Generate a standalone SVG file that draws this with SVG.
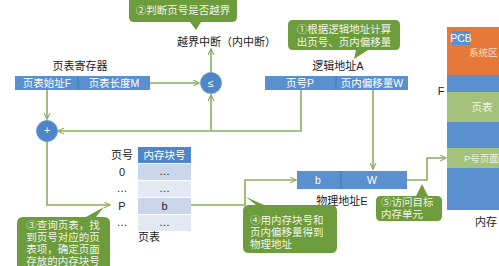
<svg xmlns="http://www.w3.org/2000/svg" width="499" height="266" viewBox="0 0 499 266">
<defs>
<marker id="ah" viewBox="0 0 8 8" refX="7" refY="4" markerWidth="7" markerHeight="7" orient="auto" markerUnits="userSpaceOnUse"><path d="M0,0.5 L7.5,4 L0,7.5" fill="none" stroke="#8aae5c" stroke-width="1.3"/></marker>
</defs>
<style>
text{font-family:"Liberation Sans","Noto Sans CJK SC",sans-serif;}
.lbl{font-size:11px;fill:#222;}
.wt{font-size:10.5px;fill:#fff;}
.call{fill:#6c9c3c;}
.ct{font-size:10.5px;fill:#f4f4e8;}
.bar{fill:#5a8fd0;}
.conn{fill:none;stroke:#8aae5c;stroke-width:1.6;}
.circ{fill:#4f86c8;stroke:#6b9bd5;stroke-width:1;}
</style>
<rect width="499" height="266" fill="#fff"/>

<g id="connectors">
<path class="conn" d="M211,72 V49" marker-end="url(#ah)"/>
<path class="conn" d="M150,83 H199" marker-end="url(#ah)"/>
<path class="conn" d="M47,90 V119" marker-end="url(#ah)"/>
<path class="conn" d="M301,90 V131 H58" marker-end="url(#ah)"/>
<path class="conn" d="M211,131 V95" marker-end="url(#ah)"/>
<path class="conn" d="M373,90 V169" marker-end="url(#ah)"/>
<path class="conn" d="M47,141 V205 H110" marker-end="url(#ah)"/>
<path class="conn" d="M191,205 H245 V180 H296" marker-end="url(#ah)"/>
<path class="conn" d="M407,180 H427 V158 H446" marker-end="url(#ah)"/>
</g>

<g id="callout2">
<path class="call" d="M134,-6 H232 Q237,-6 237,-1 V17 Q237,22 232,22 H201 L196,30 L190,22 H134 Q129,22 129,17 V-1 Q129,-6 134,-6 Z"/>
<text class="ct" x="183" y="14" text-anchor="middle">②判断页号是否越界</text>
</g>

<g id="interrupt">
<text class="lbl" x="177" y="46">越界中断（内中断）</text>
</g>

<g id="cmp">
<circle class="circ" cx="211" cy="83" r="10.5"/>
<text class="wt" x="211" y="87" text-anchor="middle" font-size="10">≤</text>
</g>

<g id="register">
<text class="lbl" x="80" y="70" text-anchor="middle">页表寄存器</text>
<rect class="bar" x="15" y="76" width="135" height="14"/>
<line x1="78" y1="76" x2="78" y2="90" stroke="#3d70b0" stroke-width="0.8"/>
<text class="wt" x="47" y="87" text-anchor="middle">页表始址F</text>
<text class="wt" x="114" y="87" text-anchor="middle">页表长度M</text>
</g>

<g id="adder">
<circle class="circ" cx="47" cy="131" r="10.5"/>
<text class="wt" x="47" y="134" text-anchor="middle" font-size="8">+</text>
</g>

<g id="callout1">
<path class="call" d="M293,20 H395 Q400,20 400,25 V45 Q400,50 395,50 H368 L354,59 L356,50 H293 Q288,50 288,45 V25 Q288,20 293,20 Z"/>
<text class="ct" x="344" y="33" text-anchor="middle">①根据逻辑地址计算</text>
<text class="ct" x="344" y="46" text-anchor="middle">出页号、页内偏移量</text>
</g>

<g id="logical">
<text class="lbl" x="338" y="70" text-anchor="middle">逻辑地址A</text>
<rect class="bar" x="265" y="76" width="143" height="14"/>
<line x1="336" y1="76" x2="336" y2="90" stroke="#3d70b0" stroke-width="0.8"/>
<text class="wt" x="300" y="87" text-anchor="middle">页号P</text>
<text class="wt" x="372" y="87" text-anchor="middle">页内偏移量W</text>
</g>

<g id="pagetable">
<text class="lbl" x="122" y="159" text-anchor="middle">页号</text>
<rect x="138" y="147" width="53" height="16" fill="#4f86c8"/>
<text class="wt" x="164.5" y="159" text-anchor="middle">内存块号</text>
<rect x="138" y="164" width="53" height="16" fill="#cad7ea"/>
<rect x="138" y="181" width="53" height="16" fill="#e3e9f3"/>
<rect x="138" y="198" width="53" height="16" fill="#cad7ea"/>
<rect x="138" y="215" width="53" height="16" fill="#e3e9f3"/>
<text class="lbl" x="164.5" y="175" text-anchor="middle" font-size="9">…</text>
<text class="lbl" x="164.5" y="192" text-anchor="middle" font-size="9">…</text>
<text class="lbl" x="164.5" y="210" text-anchor="middle" font-size="10.5">b</text>
<text class="lbl" x="164.5" y="226" text-anchor="middle" font-size="9">…</text>
<text class="lbl" x="122" y="176" text-anchor="middle" font-size="10">0</text>
<text class="lbl" x="122" y="192" text-anchor="middle" font-size="9">…</text>
<text class="lbl" x="122" y="210" text-anchor="middle" font-size="10">P</text>
<text class="lbl" x="122" y="226" text-anchor="middle" font-size="9">…</text>
<text class="lbl" x="138" y="241">页表</text>
</g>

<g id="callout3">
<path class="call" d="M23,217 H86 L104,207 L96,217 H104 Q110,217 110,223 V272 H17 V223 Q17,217 23,217 Z"/>
<text class="ct" x="63" y="229" text-anchor="middle">③查询页表，找</text>
<text class="ct" x="63" y="241" text-anchor="middle">到页号对应的页</text>
<text class="ct" x="63" y="253" text-anchor="middle">表项，确定页面</text>
<text class="ct" x="63" y="265" text-anchor="middle">存放的内存块号</text>
</g>

<g id="physical">
<rect class="bar" x="297" y="171" width="110" height="18"/>
<line x1="341" y1="171" x2="341" y2="189" stroke="#3d70b0" stroke-width="0.8"/>
<text class="wt" x="318" y="184" text-anchor="middle">b</text>
<text class="wt" x="372" y="184" text-anchor="middle">W</text>
<text class="lbl" x="342" y="205" text-anchor="middle">物理地址E</text>
</g>

<g id="callout4">
<path class="call" d="M249,205 H264 L246,197 L256,205 H331 Q337,205 337,211 V247 Q337,253 331,253 H249 Q243,253 243,247 V211 Q243,205 249,205 Z"/>
<text class="ct" x="250" y="224">④用内存块号和</text>
<text class="ct" x="250" y="236">页内偏移量得到</text>
<text class="ct" x="250" y="248">物理地址</text>
</g>

<g id="callout5">
<path class="call" d="M381,196 H416 L422,184 L428,196 H437 Q442,196 442,201 V216 Q442,221 437,221 H381 Q376,221 376,216 V201 Q376,196 381,196 Z"/>
<text class="ct" x="381" y="206">⑤访问目标</text>
<text class="ct" x="381" y="218">内存单元</text>
</g>

<g id="memory">
<rect x="447" y="27" width="60" height="48" fill="#e6793a"/>
<rect x="452" y="31" width="18" height="14" fill="#5a8fd0"/>
<text class="wt" x="461" y="41.5" text-anchor="middle" font-size="8">PCB</text>
<text x="469" y="56" font-size="9.5" fill="#fbe0cc">系统区</text>
<rect x="447" y="75" width="60" height="17" fill="#5a8fd0"/>
<rect x="447" y="92" width="60" height="30" fill="#a4c27c"/>
<text x="482" y="111" font-size="10.5" fill="#eef4e4" text-anchor="middle">页表</text>
<rect x="447" y="122" width="60" height="26" fill="#5a8fd0"/>
<rect x="447" y="148" width="60" height="20" fill="#a4c27c"/>
<text x="464" y="162" font-size="9.5" fill="#eef4e4">P号页面</text>
<rect x="447" y="168" width="60" height="42" fill="#5a8fd0"/>
<text class="lbl" x="441" y="95" text-anchor="middle" font-size="10">F</text>
<text class="lbl" x="475" y="226">内存</text>
</g>
</svg>
